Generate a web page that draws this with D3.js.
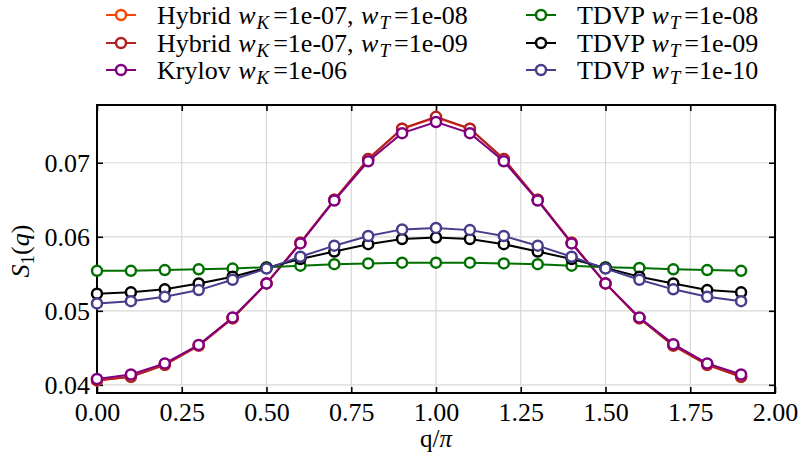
<!DOCTYPE html>
<html><head><meta charset="utf-8">
<script src="https://cdn.jsdelivr.net/npm/d3@7"></script>
</head><body style="margin:0;background:#fff"><svg id="c" width="802" height="459" style='font-family:"Liberation Serif"'></svg>
<script>
const qValues = [0.0,0.1,0.2,0.3,0.4,0.5,0.6,0.7,0.8,0.9,1.0,1.1,1.2,1.3,1.4,1.5,1.6,1.7,1.8,1.9];
const hybridT8 = [0.0406,0.0411,0.0427,0.0453,0.0490,0.0537,0.0592,0.0650,0.0705,0.0746,0.0761,0.0746,0.0705,0.0650,0.0592,0.0537,0.0490,0.0453,0.0427,0.0411];
const hybridT9 = [0.0406,0.0411,0.0427,0.0453,0.0490,0.0537,0.0592,0.0650,0.0705,0.0746,0.0762,0.0746,0.0705,0.0650,0.0592,0.0537,0.0490,0.0453,0.0427,0.0411];
const krylov6 = [0.0408,0.0414,0.0429,0.0454,0.0491,0.0537,0.0591,0.0649,0.0702,0.0740,0.0755,0.0740,0.0702,0.0649,0.0591,0.0537,0.0491,0.0455,0.0429,0.0414];
const tdvpT8 = [0.0554,0.0554,0.0555,0.0556,0.0557,0.0559,0.0561,0.0563,0.0564,0.0565,0.0565,0.0565,0.0564,0.0563,0.0561,0.0559,0.0558,0.0556,0.0555,0.0554];
const tdvpT9 = [0.0523,0.0525,0.0529,0.0537,0.0546,0.0558,0.0570,0.0580,0.0590,0.0597,0.0599,0.0597,0.0590,0.0580,0.0570,0.0558,0.0546,0.0537,0.0528,0.0525];
const tdvpT10 = [0.0510,0.0513,0.0519,0.0528,0.0542,0.0557,0.0573,0.0588,0.0601,0.0610,0.0612,0.0609,0.0601,0.0588,0.0573,0.0557,0.0542,0.0529,0.0519,0.0513];
const xTicks = [0,0.25,0.5,0.75,1.0,1.25,1.5,1.75,2.0];
const yTicks = [0.04,0.05,0.06,0.07];

const FONT = '"Liberation Serif"';
const FS = 26, SUB = 19;

const series = [
  {values: hybridT8, color: "#ff4500", label: [["Hybrid "],["w","i"],["K","s"],["=1e-07, ","u"],["w","i"],["T","s"],["=1e-08","u"]]},
  {values: hybridT9, color: "#b22222", label: [["Hybrid "],["w","i"],["K","s"],["=1e-07, ","u"],["w","i"],["T","s"],["=1e-09","u"]]},
  {values: krylov6, color: "#800080", label: [["Krylov "],["w","i"],["K","s"],["=1e-06","u"]]},
  {values: tdvpT8, color: "#007000", label: [["TDVP "],["w","i"],["T","s"],["=1e-08","u"]]},
  {values: tdvpT9, color: "#000000", label: [["TDVP "],["w","i"],["T","s"],["=1e-09","u"]]},
  {values: tdvpT10, color: "#483d8b", label: [["TDVP "],["w","i"],["T","s"],["=1e-10","u"]]}
];

const svg = d3.select("#c");
const L = 97, R = 775, T = 105, B = 393;
const x = d3.scaleLinear([0, 2], [L, R]);
const y = d3.scaleLinear([0.0389, 0.0778], [B, T]);

// grid
const grid = svg.append("g").attr("stroke", "#d9d9d9").attr("stroke-width", 1.2);
xTicks.forEach(t => grid.append("line").attr("x1", x(t)).attr("x2", x(t)).attr("y1", T).attr("y2", B));
yTicks.forEach(t => grid.append("line").attr("x1", L).attr("x2", R).attr("y1", y(t)).attr("y2", y(t)));

// axes
const gx = svg.append("g").attr("transform", `translate(0,${B})`)
  .call(d3.axisBottom(x).tickValues(xTicks).tickFormat(d3.format(".2f")).tickSize(-6).tickPadding(10));
const gxt = svg.append("g").attr("transform", `translate(0,${T})`)
  .call(d3.axisTop(x).tickValues(xTicks).tickFormat("").tickSize(-6));
const gy = svg.append("g").attr("transform", `translate(${L},0)`)
  .call(d3.axisLeft(y).tickValues(yTicks).tickFormat(d3.format(".2f")).tickSize(-6).tickPadding(7));
const gyr = svg.append("g").attr("transform", `translate(${R},0)`)
  .call(d3.axisRight(y).tickValues(yTicks).tickFormat("").tickSize(-6));
[gx, gxt, gy, gyr].forEach(g => {
  g.attr("font-family", null).attr("font-size", null).style("font-family", FONT);
  g.select(".domain").remove();
  g.selectAll(".tick line").attr("stroke", "#000").attr("stroke-width", 1.6);
  g.selectAll(".tick text").style("font-family", FONT).style("font-size", FS + "px").attr("fill", "#000");
});
gx.selectAll(".tick text").attr("dy", "0.71em");

svg.append("rect").attr("x", L).attr("y", T).attr("width", R - L).attr("height", B - T)
  .attr("fill", "none").attr("stroke", "#000").attr("stroke-width", 2);

// lines and markers
const line = d3.line().x((d, i) => x(qValues[i])).y(d => y(d));
series.forEach(s => {
  const g = svg.append("g");
  g.append("path").attr("d", line(s.values)).attr("fill", "none").attr("stroke", s.color).attr("stroke-width", 2);
  g.selectAll("circle").data(s.values).join("circle")
    .attr("cx", (d, i) => x(qValues[i])).attr("cy", d => y(d)).attr("r", 5)
    .attr("fill", "#fff").attr("stroke", s.color).attr("stroke-width", 2.5);
});

// axis labels
const xl = svg.append("text").attr("x", (L + R) / 2).attr("y", 447).attr("text-anchor", "middle")
  .style("font-family", FONT).style("font-size", "25px");
xl.append("tspan").text("q/");
xl.append("tspan").style("font-style", "italic").text("π");
const yl = svg.append("text").attr("transform", `translate(29,${(T + B) / 2 + 2}) rotate(-90)`).attr("text-anchor", "middle")
  .style("font-family", FONT).style("font-size", FS + "px");
yl.append("tspan").style("font-style", "italic").text("S");
yl.append("tspan").attr("dy", 5).style("font-size", SUB + "px").text("1");
yl.append("tspan").attr("dy", -5).text("(");
yl.append("tspan").style("font-style", "italic").text("q");
yl.append("tspan").text(")");

// legend
const legPos = [[106, 15], [106, 43], [106, 70], [526, 15], [526, 43], [526, 70]];
series.forEach((s, k) => {
  const [lx, ly] = legPos[k];
  const g = svg.append("g");
  g.append("line").attr("x1", lx).attr("x2", lx + 30).attr("y1", ly).attr("y2", ly).attr("stroke", s.color).attr("stroke-width", 2);
  g.append("circle").attr("cx", lx + 15).attr("cy", ly).attr("r", 5).attr("fill", "#fff").attr("stroke", s.color).attr("stroke-width", 2.5);
  const t = g.append("text").attr("x", lx + 51).attr("y", ly + 9)
    .style("font-family", FONT).style("font-size", FS + "px");
  s.label.forEach(([txt, kind]) => {
    const sp = t.append("tspan").text(txt);
    if (kind === "i") sp.style("font-style", "italic").attr("dx", 1);
    if (kind === "s") sp.style("font-style", "italic").style("font-size", SUB + "px").attr("dy", 5).attr("dx", 1);
    if (kind === "u") sp.attr("dy", -5).attr("dx", 4);
  });
});
</script></body></html>
